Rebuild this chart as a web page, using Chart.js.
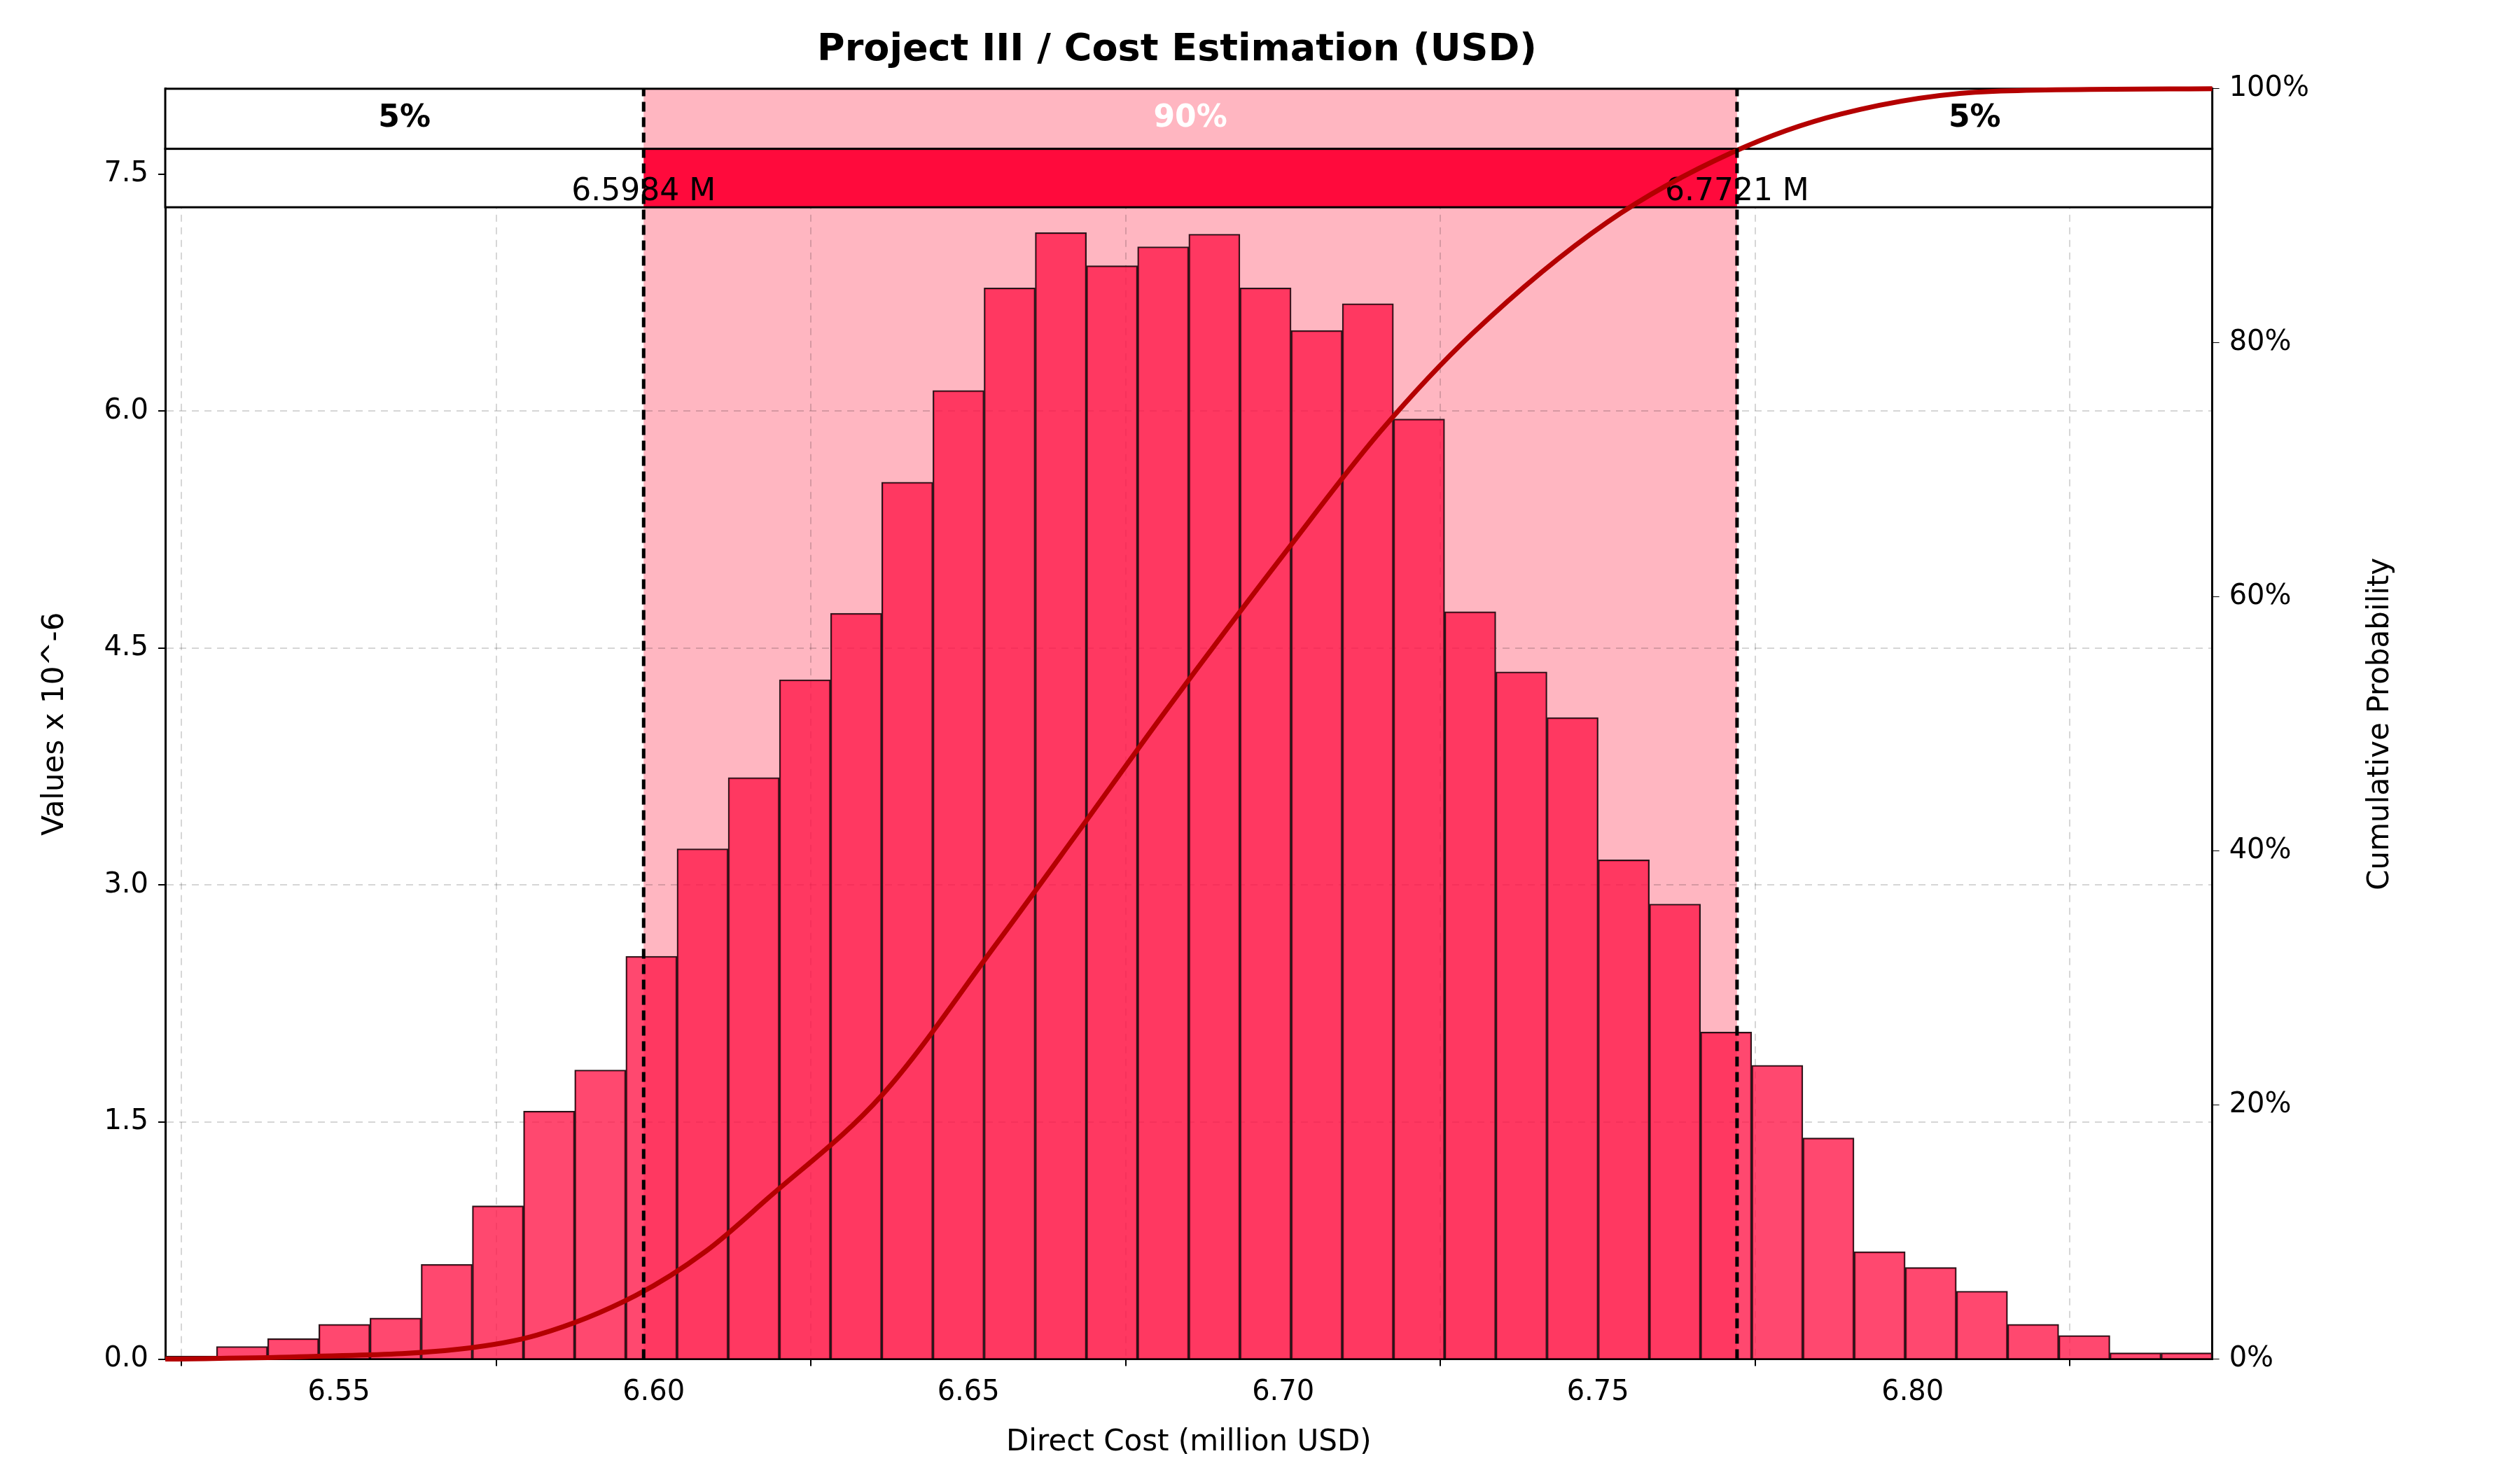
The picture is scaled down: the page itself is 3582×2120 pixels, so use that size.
<!DOCTYPE html>
<html>
<head>
<meta charset="utf-8">
<script src="https://cdn.jsdelivr.net/npm/chart.js@4/dist/chart.umd.min.js"></script>
<style>
  html, body { margin: 0; padding: 0; background: white; }
  #wrap { width: 3582px; height: 2120px; }
</style>
</head>
<body>
<div id="wrap"><canvas id="costChart" width="3582" height="2120"></canvas></div>
<script>
// histogram bins (million USD), heights in units of 10^-6
const binStart = 6.5224;
const binWidth = 0.00813;
const binHeights = [0.02, 0.08, 0.13, 0.22, 0.26, 0.60, 0.97, 1.57, 1.83, 2.55,
    3.23, 3.68, 4.30, 4.72, 5.55, 6.13, 6.78, 7.13, 6.92, 7.04,
    7.12, 6.78, 6.51, 6.68, 5.95, 4.73, 4.35, 4.06, 3.16, 2.88,
    2.07, 1.86, 1.40, 0.68, 0.58, 0.43, 0.22, 0.15, 0.04, 0.04];

// cumulative probability curve
const cdfX = [6.5224, 6.545, 6.5694, 6.5815, 6.5971, 6.6083, 6.618, 6.6363, 6.6546, 6.6667,
    6.6813, 6.7011, 6.7154, 6.7300, 6.7515, 6.7714, 6.7885, 6.8128, 6.8476];
const cdfY = [0, 0.2, 0.8, 1.9, 5, 8.5, 12.6, 20.8, 32.8, 41,
    51, 64, 73, 80.7, 89.5, 95, 98, 99.8, 100];

const q05 = 6.5984;
const q95 = 6.7721;
const xTicks = [6.55, 6.60, 6.65, 6.70, 6.75, 6.80];
const yTicks = [0, 1.5, 3.0, 4.5, 6.0, 7.5];
const y2Ticks = [0, 20, 40, 60, 80, 100];

const FONT = "'DejaVu Sans', sans-serif";

const barData = binHeights.map((h, i) => ({ x: binStart + binWidth * (i + 0.5), y: h }));
const cdfData = cdfX.map((x, i) => ({ x: x, y: cdfY[i] }));

const bandPlugin = {
    id: 'band',
    beforeDraw(chart) {
        const { ctx, chartArea: a, scales: { x } } = chart;
        ctx.save();
        ctx.fillStyle = 'rgb(255,182,193)';
        ctx.fillRect(x.getPixelForValue(q05), a.top, x.getPixelForValue(q95) - x.getPixelForValue(q05), a.bottom - a.top);
        ctx.restore();
    },
    beforeDatasetsDraw(chart) {
        const { ctx, chartArea: a, scales: { x, y } } = chart;
        const x1 = x.getPixelForValue(q05), x2 = x.getPixelForValue(q95);
        const r1 = y.getPixelForValue(7.66), r2 = y.getPixelForValue(7.29);
        ctx.save();
        ctx.fillStyle = 'white';
        ctx.fillRect(a.left, a.top, a.right - a.left, r2 - a.top);
        ctx.fillStyle = 'rgb(255,182,193)';
        ctx.fillRect(x1, a.top, x2 - x1, r1 - a.top);
        ctx.fillStyle = 'rgb(255,10,60)';
        ctx.fillRect(x1, r1, x2 - x1, r2 - r1);
        ctx.strokeStyle = 'black';
        ctx.lineWidth = 3;
        ctx.strokeRect(a.left, a.top, a.right - a.left, r1 - a.top);
        ctx.strokeRect(a.left, r1, a.right - a.left, r2 - r1);
        ctx.textAlign = 'center';
        ctx.textBaseline = 'middle';
        ctx.font = 'bold 44px ' + FONT;
        const mid1 = (a.top + r1) / 2;
        ctx.fillStyle = 'black';
        ctx.fillText('5%', (a.left + x1) / 2, mid1);
        ctx.fillText('5%', (x2 + a.right) / 2, mid1);
        ctx.fillStyle = 'white';
        ctx.fillText('90%', (x1 + x2) / 2, mid1);
        ctx.font = '44px ' + FONT;
        ctx.fillStyle = 'black';
        const ly = r2 - 22;
        ctx.fillText(q05.toFixed(4) + ' M', x1, ly);
        ctx.fillText(q95.toFixed(4) + ' M', x2, ly);
        ctx.restore();
    },
    afterDatasetsDraw(chart) {
        const { ctx, chartArea: a, scales: { x } } = chart;
        ctx.save();
        ctx.strokeStyle = 'black';
        ctx.lineWidth = 5;
        ctx.setLineDash([14, 8]);
        [q05, q95].forEach(v => {
            const px = x.getPixelForValue(v);
            ctx.beginPath(); ctx.moveTo(px, a.bottom); ctx.lineTo(px, a.top); ctx.stroke();
        });
        ctx.restore();
    },
    afterDraw(chart) {
        const { ctx, chartArea: a } = chart;
        ctx.save();
        ctx.translate(a.right + 240, (a.top + a.bottom) / 2);
        ctx.rotate(-Math.PI / 2);
        ctx.textAlign = 'center';
        ctx.textBaseline = 'middle';
        ctx.font = '42px ' + FONT;
        ctx.fillStyle = 'black';
        ctx.fillText('Cumulative Probability', 0, 0);
        ctx.restore();
    }
};

new Chart(document.getElementById('costChart'), {
    data: {
        datasets: [{
            type: 'line',
            data: cdfData,
            yAxisID: 'y2',
            borderColor: 'rgb(180,0,0)',
            borderWidth: 7,
            pointRadius: 0,
            cubicInterpolationMode: 'monotone',
            clip: false,
            order: 0
        }, {
            type: 'bar',
            data: barData,
            yAxisID: 'y',
            backgroundColor: 'rgba(255,20,70,0.78)',
            borderColor: 'rgb(40,20,25)',
            borderWidth: 2,
            barPercentage: 1,
            categoryPercentage: 1,
            order: 1
        }]
    },
    options: {
        responsive: false,
        animation: false,
        devicePixelRatio: 1,
        layout: { padding: { left: 50, right: 270, top: 10, bottom: 30 } },
        plugins: {
            legend: { display: false },
            tooltip: { enabled: false },
            title: {
                display: true,
                text: 'Project III / Cost Estimation (USD)',
                font: { family: FONT, size: 54, weight: 'bold' },
                color: 'black',
                padding: { top: 30, bottom: 22 }
            }
        },
        scales: {
            x: {
                type: 'linear',
                offset: false,
                min: 6.5224,
                max: 6.8476,
                afterBuildTicks: s => { s.ticks = xTicks.map(v => ({ value: v })); },
                ticks: { font: { family: FONT, size: 40 }, color: 'black', padding: 14, callback: v => v.toFixed(2) },
                grid: { color: 'rgba(0,0,0,0.16)', lineWidth: 2, tickLength: 10, tickColor: 'black' },
                border: { color: 'black', width: 3, dash: [10, 8] },
                title: { display: true, text: 'Direct Cost (million USD)', font: { family: FONT, size: 42 }, color: 'black', padding: { top: 8 } }
            },
            y: {
                position: 'left',
                min: 0,
                max: 8.04,
                afterBuildTicks: s => { s.ticks = yTicks.map(v => ({ value: v })); },
                ticks: { font: { family: FONT, size: 40 }, color: 'black', padding: 14, callback: v => v.toFixed(1) },
                grid: { color: 'rgba(0,0,0,0.16)', lineWidth: 2, tickLength: 10, tickColor: 'black' },
                border: { color: 'black', width: 3, dash: [10, 8] },
                title: { display: true, text: 'Values x 10^-6', font: { family: FONT, size: 42 }, color: 'black', padding: { bottom: 30 } }
            },
            y2: {
                position: 'right',
                min: 0,
                max: 100,
                afterBuildTicks: s => { s.ticks = y2Ticks.map(v => ({ value: v })); },
                ticks: { font: { family: FONT, size: 40 }, color: 'black', padding: 14, callback: v => v + '%' },
                grid: { drawOnChartArea: false, tickLength: 10, color: 'black' },
                border: { color: 'black', width: 3 }
            }
        }
    },
    plugins: [bandPlugin]
});
</script>
</body>
</html>
